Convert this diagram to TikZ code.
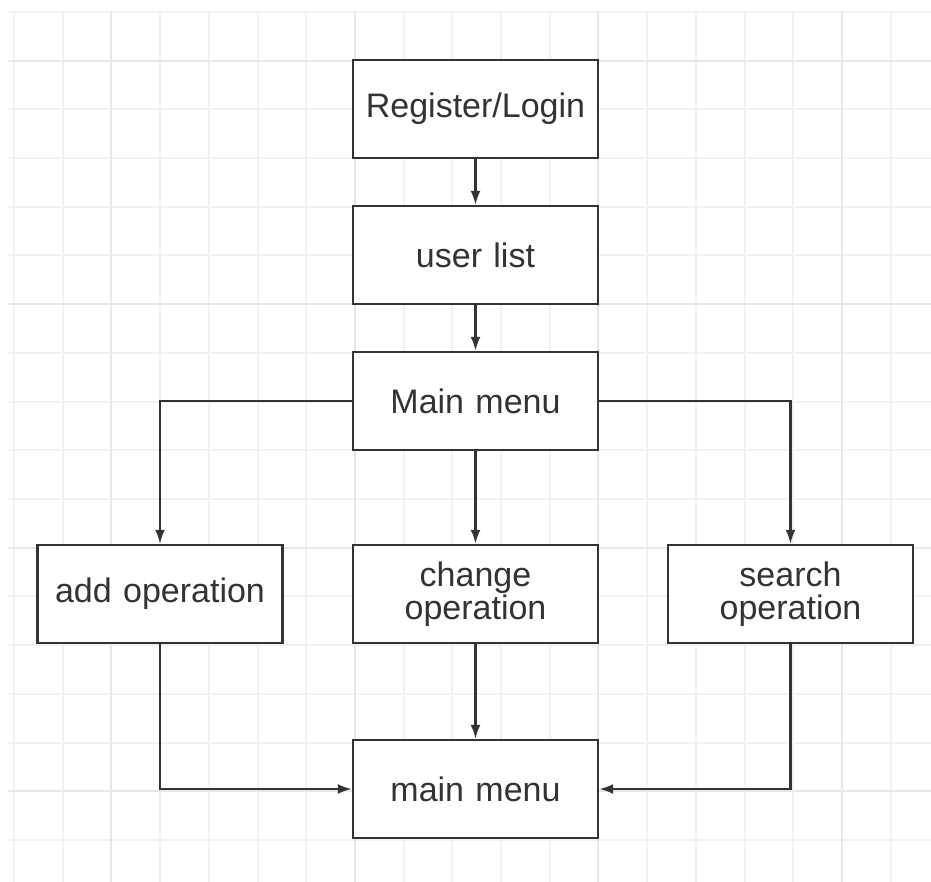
\documentclass[tikz,border=0pt]{standalone}
\usepackage{fontspec}
\setmainfont{Liberation Sans}
\usepackage{tikz}
\usetikzlibrary{shapes,arrows.meta}
\definecolor{inkgray}{HTML}{333333}
\definecolor{gridminor}{HTML}{F2F2F2}
\definecolor{gridmajor}{HTML}{E8E8E8}
\tikzstyle{block} = [rectangle, draw=inkgray, line width=1.2pt, fill=white,
    text=inkgray, minimum width=122.5pt, minimum height=49pt, text width=110pt,
    align=center, inner sep=0pt, font=\fontsize{17}{16.5}\selectfont]
\tikzstyle{line} = [draw=inkgray, line width=1.1pt, -{Latex[length=7pt,width=5pt]}]
\tikzstyle{gridline} = [gridminor, line width=1pt]

\begin{document}
\begin{tikzpicture}[x=0.5pt, y=-0.5pt, node distance = 73pt, auto]
\useasboundingbox (0,0) rectangle (931,882);

% background grid
\foreach \k in {0,...,18}
    \draw [gridline] (14+48.7*\k,11) -- (14+48.7*\k,882);
\foreach \k in {0,...,17}
    \draw [gridline] (8,12+48.7*\k) -- (931,12+48.7*\k);
\foreach \k in {2,7,12,17}
    \draw [gridmajor, line width=1pt] (14+48.7*\k,11) -- (14+48.7*\k,882);
\foreach \k in {1,6,11,16}
    \draw [gridmajor, line width=1pt] (8,12+48.7*\k) -- (931,12+48.7*\k);

\node [block] (login) at (475.5,109) {Register/Login};
\node [block, below of=login] (users) {user list};
\node [block, below of=users] (menu) {Main menu};
\node [block, below of=menu, node distance=96.5pt] (change) {change\\operation};
\node [block, left of=change, node distance=157.75pt] (add) {add operation};
\node [block, right of=change, node distance=157.5pt] (search) {search\\operation};
\node [block, below of=change, node distance=97.5pt] (back) {main menu};

\path [line] (login) -- (users);
\path [line] (users) -- (menu);
\path [line] (menu) -| (add);
\path [line] (menu) -- (change);
\path [line] (menu) -| (search);
\path [line] (add) |- (back);
\path [line] (change) -- (back);
\path [line] (search) |- (back);
\end{tikzpicture}
\end{document}
